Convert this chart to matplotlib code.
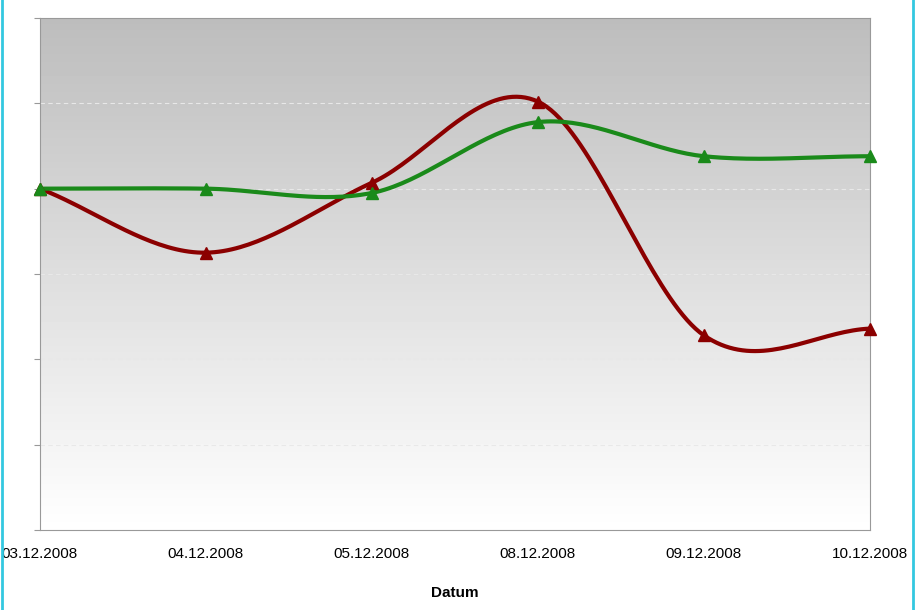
import numpy as np
import matplotlib
matplotlib.use('Agg')
import matplotlib.pyplot as plt

dates = ['03.12.2008', '04.12.2008', '05.12.2008', '08.12.2008', '09.12.2008', '10.12.2008']
red_vals = [4.0, 3.25, 4.07, 5.02, 2.28, 2.36]
green_vals = [4.0, 4.0, 3.95, 4.78, 4.38, 4.38]


def smooth(x, y, n=40):
    # catmull-rom spline through the points, just for drawing the curve
    x = np.asarray(x, float)
    y = np.asarray(y, float)
    px = np.concatenate([[2 * x[0] - x[1]], x, [2 * x[-1] - x[-2]]])
    py = np.concatenate([[2 * y[0] - y[1]], y, [2 * y[-1] - y[-2]]])
    xs, ys = [], []
    t = np.linspace(0, 1, n)
    for i in range(1, len(px) - 2):
        for p, out in ((px, xs), (py, ys)):
            p0, p1, p2, p3 = p[i - 1], p[i], p[i + 1], p[i + 2]
            out.append(0.5 * (2 * p1 + (-p0 + p2) * t + (2 * p0 - 5 * p1 + 4 * p2 - p3) * t ** 2
                              + (-p0 + 3 * p1 - 3 * p2 + p3) * t ** 3))
    return np.concatenate(xs), np.concatenate(ys)


fig = plt.figure(figsize=(9.15, 6.1), dpi=100)
ax = fig.add_axes([40 / 915, 80 / 610, 830 / 915, 512 / 610])
x = np.arange(len(dates))
ax.set_xlim(0, len(dates) - 1)
ax.set_ylim(0, 6)

grad = np.linspace(1.0, 0.74, 256).reshape(-1, 1)
ax.imshow(grad, cmap='gray', vmin=0, vmax=1, aspect='auto',
          extent=[0, len(dates) - 1, 0, 6], origin='lower', zorder=0)

for g in range(1, 6):
    ax.axhline(g, color='#e8e8e8', lw=0.8, ls=(0, (4, 3)), zorder=1)

sx, sy = smooth(x, red_vals)
ax.plot(sx, sy, color='#8b0000', lw=3, zorder=3, clip_on=False)
ax.plot(x, red_vals, '^', color='#8b0000', ms=8, zorder=4, clip_on=False)
sx, sy = smooth(x, green_vals)
ax.plot(sx, sy, color='#1a8a1a', lw=3, zorder=3, clip_on=False)
ax.plot(x, green_vals, '^', color='#1a8a1a', ms=8, zorder=4, clip_on=False)

ax.set_xticks(x)
ax.set_xticklabels(dates, fontsize=11, family='Liberation Sans')
ax.set_yticks(range(7))
ax.set_yticklabels([])
ax.tick_params(axis='y', length=4, color='#999999')
ax.tick_params(axis='x', length=0, pad=12)
ax.set_xlabel('Datum', fontsize=11, fontweight='bold', family='Liberation Sans', labelpad=18)
for s in ax.spines.values():
    s.set_color('#999999')

fig.add_artist(plt.Line2D([0.002, 0.002], [0, 1], color='#33c8e0', lw=2))
fig.add_artist(plt.Line2D([0.998, 0.998], [0, 1], color='#33c8e0', lw=2))

fig.savefig('out.png', dpi=100)
